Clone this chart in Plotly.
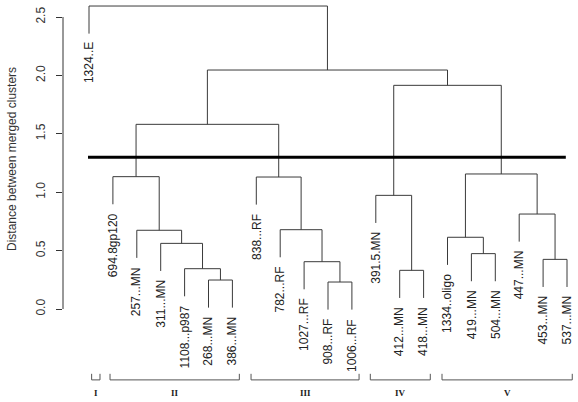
import plotly.graph_objects as go

# ---- data ----
leaf_labels = ["1324..E", "694.8gp120", "257...MN", "311...MN", "1108...p987",
               "268...MN", "386...MN", "838...RF", "782...RF", "1027...RF",
               "908...RF", "1006...RF", "391.5.MN", "412...MN", "418...MN",
               "1334..oligo", "419...MN", "504...MN", "447...MN", "453...MN", "537...MN"]
# R-style merge matrix: negative = leaf (1-based), positive = earlier merge (1-based)
merge_a = [-11, -6, -14, -5, -10, -20, -17, -4, -16, -3, -9, -19, -13, -2, -8, 9, 14, 13, 17, -1]
merge_b = [-12, -7, -15, 2, 1, -21, -18, 4, 7, 8, 5, 6, 3, 10, 11, 12, 15, 16, 18, 19]
merge_height = [0.231, 0.248, 0.331, 0.345, 0.405, 0.425, 0.474, 0.562, 0.614, 0.674,
                0.679, 0.813, 0.973, 1.133, 1.130, 1.156, 1.581, 1.915, 2.046, 2.594]
cut_height = 1.3
y_ticks = [0.0, 0.5, 1.0, 1.5, 2.0, 2.5]
group_names = ["I", "II", "III", "IV", "V"]
group_start = [1.11, 1.88, 7.78, 12.77, 15.77]
group_end = [1.46, 7.29, 12.30, 15.28, 21.22]

hang = 0.1 * (max(merge_height) - min(merge_height))

# ---- layout of the tree ----
merge_x = []
seg_x, seg_y = [], []
leaf_bottom = {}

def child_info(c, h):
    if c < 0:
        leaf_bottom[-c] = h - hang
        return float(-c), h - hang
    return merge_x[c - 1], merge_height[c - 1]

for a, b, h in zip(merge_a, merge_b, merge_height):
    xa, ya = child_info(a, h)
    xb, yb = child_info(b, h)
    seg_x += [xa, xa, xb, xb, None]
    seg_y += [ya, h, h, yb, None]
    merge_x.append((xa + xb) / 2)

fig = go.Figure()
fig.add_trace(go.Scatter(x=seg_x, y=seg_y, mode="lines",
                         line=dict(color="#3a3a3a", width=1), hoverinfo="skip",
                         showlegend=False))
fig.add_trace(go.Scatter(x=[0.958, 20.95], y=[cut_height, cut_height], mode="lines",
                         line=dict(color="black", width=3), hoverinfo="skip",
                         showlegend=False))

annotations = []
for i, lab in enumerate(leaf_labels, start=1):
    annotations.append(dict(x=i, y=leaf_bottom[i], xref="x", yref="y", text=lab,
                            showarrow=False, textangle=-90, xanchor="center",
                            yanchor="top", yshift=-7,
                            font=dict(family="Liberation Sans, Arial", size=12, color="#222")))

# brackets
brk_x, brk_y = [], []
for s, e in zip(group_start, group_end):
    brk_x += [s, s, e, e, None]
    brk_y += [-0.555, -0.607, -0.607, -0.555, None]
fig.add_trace(go.Scatter(x=brk_x, y=brk_y, mode="lines",
                         line=dict(color="#555", width=1), hoverinfo="skip",
                         showlegend=False))
for name, s, e in zip(group_names, group_start, group_end):
    annotations.append(dict(x=(s + e) / 2, y=-0.72, xref="x", yref="y", text="<b>%s</b>" % name,
                            showarrow=False, xanchor="center", yanchor="middle",
                            font=dict(family="Liberation Serif, Times New Roman", size=9, color="#222")))

annotations.append(dict(x=-51 / 512, y=(398 - 159) / 394, xref="paper", yref="paper",
                        text="Distance between merged clusters", showarrow=False,
                        textangle=-90, xanchor="center", yanchor="middle",
                        font=dict(family="Liberation Sans, Arial", size=12, color="#333")))

fig.add_shape(type="line", xref="paper", yref="y", x0=0, x1=0, y0=0, y1=2.5,
              line=dict(color="#333", width=1))

px_per_leaf = 23.9
px_per_unit = 116.8
fig.update_layout(
    width=578, height=402,
    margin=dict(l=63, r=3, t=4, b=4),
    paper_bgcolor="white", plot_bgcolor="white",
    annotations=annotations,
    xaxis=dict(range=[1 - 26 / px_per_leaf, 1 + (575 - 89) / px_per_leaf],
               visible=False, showgrid=False, zeroline=False),
    yaxis=dict(range=[-(398 - 309) / px_per_unit, 2.5 + 13 / px_per_unit],
               tickvals=y_ticks, ticktext=["%.1f" % v for v in y_ticks],
               ticks="outside", ticklen=6, tickcolor="#333", tickwidth=1,
               tickangle=-90, ticklabelstandoff=6,
               tickfont=dict(family="Liberation Sans, Arial", size=12, color="#333"),
               showgrid=False, zeroline=False, showline=False),
)

fig.write_html("out.html", config={"displayModeBar": False},
               post_script="document.body.style.margin='0';")
